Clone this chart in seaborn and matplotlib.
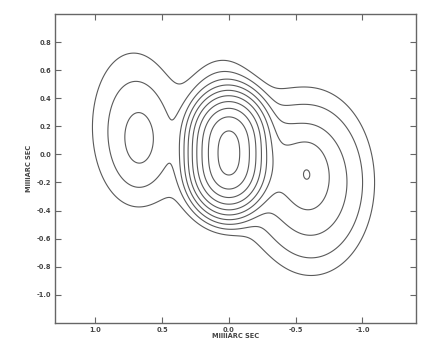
import numpy as np
import matplotlib
matplotlib.use("Agg")
import matplotlib.pyplot as plt
import seaborn as sns

# ================== map components ==================
# gaussian components of the source (position in mas, peak in contour units)
comp_name = ["core N", "core S", "core halo", "core plume", "jet", "west knot",
             "west lobe", "east knot", "east lobe"]
comp_x = [0.00, 0.00, 0.00, 0.05, -0.33, 0.665, 0.72, -0.59, -0.62]
comp_y = [0.12, -0.10, 0.00, 0.35, -0.07, 0.095, 0.20, -0.14, -0.20]
comp_amp = [492.0, 492.0, 2.0, 2.3, 4.6, 2.7, 2.5, 8.0, 7.4]
comp_sx = [0.11, 0.11, 0.30, 0.14, 0.14, 0.11, 0.22, 0.09, 0.235]
comp_sy = [0.125, 0.125, 0.35, 0.20, 0.17, 0.19, 0.38, 0.14, 0.33]

# contour levels (doubling)
levels = [1, 2, 4, 8, 16, 32, 64, 128, 256, 512]

x_ticks = [1.0, 0.5, 0.0, -0.5, -1.0]
y_ticks = [0.8, 0.6, 0.4, 0.2, 0.0, -0.2, -0.4, -0.6, -0.8, -1.0]
axis_label = "MilliARC SEC"

# ================== build the map ==================
xs = np.linspace(-1.4, 1.3, 500)
ys = np.linspace(-1.2, 1.0, 500)
X, Y = np.meshgrid(xs, ys)
Z = np.zeros_like(X)
for cx, cy, a, sx, sy in zip(comp_x, comp_y, comp_amp, comp_sx, comp_sy):
    Z += a * np.exp(-((X - cx) ** 2 / (2 * sx ** 2) + (Y - cy) ** 2 / (2 * sy ** 2)))

# ================== plot ==================
sns.set_style("ticks")
plt.rcParams["font.family"] = ["DejaVu Sans"]

fig = plt.figure(figsize=(4.24, 3.41), dpi=100)
ax = fig.add_axes([0.130, 0.053, 0.851, 0.906])

ax.contour(X, Y, Z, levels=levels, colors="#5a5a5a", linewidths=0.8)

ax.set_xlim(1.3, -1.4)
ax.set_ylim(-1.2, 1.0)
ax.set_xticks(x_ticks)
ax.set_xticklabels([f"{v:.1f}" for v in x_ticks], fontsize=4.8, fontweight="bold", color="#444444")
ax.set_yticks(y_ticks)
ax.set_yticklabels([f"{v:.1f}" for v in y_ticks], fontsize=4.8, fontweight="bold", color="#444444")
ax.tick_params(direction="in", length=4, width=0.8, color="#666666",
               top=True, right=True, pad=3)
for s in ax.spines.values():
    s.set_color("#666666")
    s.set_linewidth(1.0)

ax.set_xlabel(axis_label, fontsize=4.8, fontweight="bold", color="#444444", labelpad=0)
ax.set_ylabel(axis_label, fontsize=4.8, fontweight="bold", color="#444444", labelpad=3)

fig.savefig("out.png", dpi=100, facecolor="white")
